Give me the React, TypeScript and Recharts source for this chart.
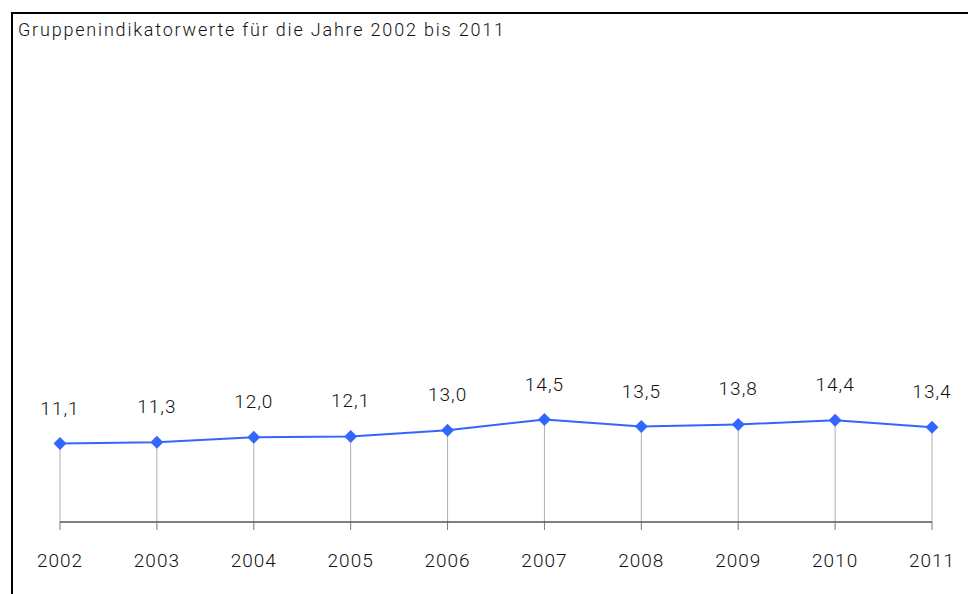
import React from 'react';
import { LineChart, Line, XAxis, YAxis, ReferenceLine, LabelList } from 'recharts';

const years = ['2002', '2003', '2004', '2005', '2006', '2007', '2008', '2009', '2010', '2011'];
const values = [11.1, 11.3, 12.0, 12.1, 13.0, 14.5, 13.5, 13.8, 14.4, 13.4];
const titleText = 'Gruppenindikatorwerte für die Jahre 2002 bis 2011';

const data = years.map((y, i) => ({ year: y, value: values[i] }));

const BLUE = '#3366ff';
const FONT = 'Roboto, "Noto Sans", sans-serif';

const Diamond = (props: any) => {
  const { cx, cy } = props;
  if (cx == null || cy == null) return null;
  const r = 6.5;
  return (
    <polygon
      points={`${cx},${cy - r} ${cx + r},${cy} ${cx},${cy + r} ${cx - r},${cy}`}
      fill={BLUE}
      stroke="none"
    />
  );
};

const textStyle = { fill: '#111', fontSize: 19, fontFamily: FONT, fontWeight: 300, letterSpacing: 1 };

export default function App() {
  return (
    <div style={{ position: 'fixed', left: 0, top: 0, width: 968, height: 594, overflow: 'hidden', background: '#fff' }}>
      <div
        style={{
          position: 'absolute',
          left: 11,
          top: 12,
          width: 1100,
          height: 700,
          borderLeft: '2px solid #000',
          borderTop: '2px solid #000',
          boxSizing: 'border-box',
        }}
      />
      <div
        style={{
          position: 'absolute',
          left: 18,
          top: 19,
          fontFamily: FONT,
          fontSize: 18,
          fontWeight: 300,
          letterSpacing: 1.8,
          color: '#111',
          whiteSpace: 'nowrap',
        }}
      >
        {titleText}
      </div>
      <div style={{ position: 'absolute', left: 0, top: 0 }}>
        <LineChart
          width={968}
          height={594}
          data={data}
          margin={{ top: 98, right: 36, bottom: 0, left: 60 }}
        >
          <XAxis
            dataKey="year"
            height={72}
            axisLine={{ stroke: '#000', strokeWidth: 1 }}
            tickLine={{ stroke: '#777', strokeWidth: 1 }}
            tickSize={8}
            tickMargin={24}
            tick={textStyle}
            interval={0}
          />
          <YAxis hide domain={[0, 60]} />
          {data.map((d) => (
            <ReferenceLine
              key={d.year}
              segment={[
                { x: d.year, y: 0 },
                { x: d.year, y: d.value },
              ]}
              stroke="#b0b0b0"
              strokeWidth={1}
            />
          ))}
          <Line
            type="linear"
            dataKey="value"
            stroke={BLUE}
            strokeWidth={2}
            dot={<Diamond />}
            activeDot={false}
            isAnimationActive={false}
          >
            <LabelList
              dataKey="value"
              position="top"
              offset={29}
              formatter={(v: any) => Number(v).toFixed(1).replace('.', ',')}
              style={textStyle}
            />
          </Line>
        </LineChart>
      </div>
    </div>
  );
}
